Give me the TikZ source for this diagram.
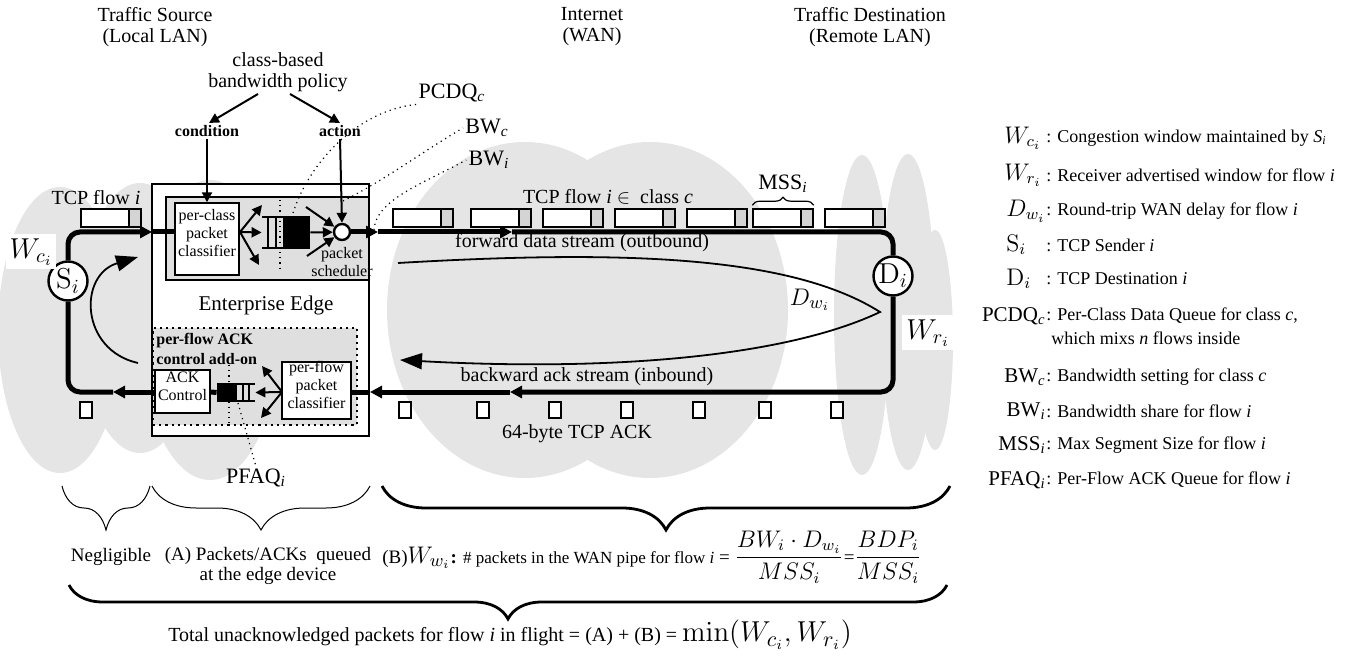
\documentclass[tikz,border=0pt]{standalone}
\usepackage[no-math]{fontspec}
\setmainfont{Liberation Serif}
\usetikzlibrary{arrows.meta,fit,decorations.pathreplacing}

\definecolor{cloudgray}{HTML}{E5E5E5}
\definecolor{boxgray}{HTML}{DFDFDF}
\definecolor{tailgray}{HTML}{D4D4D4}
\newcommand{\tsub}[1]{\textsubscript{\textit{#1}}}

\begin{document}
\begin{tikzpicture}[x=0.5pt, y=-0.5pt]

\tikzset{cloudfill/.style={fill=cloudgray}}
\tikzset{lbl/.style={font=\fontsize{10}{10.5}\selectfont, align=center, inner sep=1pt}}
\tikzset{smalltxt/.style={font=\fontsize{8}{9}\selectfont, align=center}}
\tikzset{boldtag/.style={font=\fontsize{8}{10}\bfseries\selectfont, inner sep=1pt}}
\tikzset{btxt/.style={font=\fontsize{9.5}{10}\selectfont, inner sep=1pt}}
\tikzset{leg/.style={font=\fontsize{9}{11}\selectfont, anchor=west, inner sep=0pt}}
\tikzset{legsym/.style={font=\fontsize{12}{14}\selectfont, anchor=west, inner sep=0pt}}
\tikzset{legtxt/.style={font=\fontsize{10.5}{12}\selectfont, anchor=east, inner sep=0pt}}
\tikzset{callout/.style={font=\fontsize{11}{13}\selectfont, inner sep=1pt}}
\tikzset{edgebox/.style={draw=black, line width=0.7pt, fill=white, inner sep=0pt}}
\tikzset{wire/.style={line width=2.5pt}}
\tikzset{flowtip/.style={-{Triangle[length=6pt,width=6pt]}}}
\tikzset{arr/.style={line width=1pt, -{Triangle[length=5pt,width=5pt]}}}
\tikzset{bigarr/.style={line width=0.9pt, -{Triangle[length=11pt,width=8pt]}}}
\tikzset{lead/.style={dotted, line width=0.6pt}}
\tikzset{pkt/.style={draw=black, line width=0.8pt, fill=white, minimum width=30pt, minimum height=9pt, inner sep=0pt,
  path picture={\fill[tailgray] ([xshift=-6pt]path picture bounding box.north east) rectangle (path picture bounding box.south east);
    \draw[line width=0.8pt] ([xshift=-6pt]path picture bounding box.north east) -- ([xshift=-6pt]path picture bounding box.south east);}}}
\tikzset{ack/.style={draw=black, line width=0.8pt, fill=white, minimum width=6pt, minimum height=8pt, inner sep=0pt}}
\tikzset{host/.style={circle, draw=black, line width=1.2pt, fill=white, minimum size=19.5pt, inner sep=0pt, font=\fontsize{14}{16}\selectfont}}
\tikzset{bbrace/.style={decorate, decoration={brace, mirror, amplitude=22pt}}}

\useasboundingbox (0,0) rectangle (1357,658);

\fill[cloudfill] (60,330) ellipse [x radius=62, y radius=143];
\fill[cloudfill] (140,318) ellipse [x radius=60, y radius=135];
\fill[cloudfill] (210,330) ellipse [x radius=70, y radius=150];
\fill[cloudfill] (525,310) ellipse [x radius=138, y radius=168];
\fill[cloudfill] (650,310) ellipse [x radius=138, y radius=168];
\fill[cloudfill] (862,315) ellipse [x radius=28, y radius=160];
\fill[cloudfill] (908,312) ellipse [x radius=27, y radius=158];
\fill[cloudfill] (935,340) ellipse [x radius=18, y radius=110];

\node (src) [lbl] at (155,27) {Traffic Source\\(Local LAN)};
\node (wan) [lbl] at (592,27) {Internet\\(WAN)};
\node (dst) [lbl] at (870,27) {Traffic Destination\\(Remote LAN)};

\node (policy) [lbl] at (278,72) {class-based\\bandwidth policy};
\node (cond) [boldtag] at (207,131) {condition};
\node (act) [boldtag] at (340,131) {action};

\node (edge) [edgebox, line width=0.9pt, fit={(152,184) (369,436)}] {};
\node (pcbox) [edgebox, fill=boxgray, fit={(166,197) (369,280)}] {};
\node (pcc) [edgebox, smalltxt, fit={(175,203) (239,275)}] {per-class\\packet\\classifier};
\node (eelbl) [font=\fontsize{10.5}{12}\selectfont] at (266,305) {Enterprise Edge};
\node (addon) [draw=black, dotted, line width=1.1pt, fill=boxgray, inner sep=0pt, fit={(153,328) (357,425)}] {};
\node (addtxt) [boldtag, anchor=north west, align=left, font=\fontsize{8}{10}\bfseries\selectfont] at (154,331) {per-flow ACK\\control add-on};
\node (ackc) [edgebox, smalltxt, fit={(155,370) (210,413)}] {ACK\\Control};
\node (pfc) [edgebox, smalltxt, fit={(282,362) (351,419)}] {per-flow\\packet\\classifier};

\node (pcdq) [inner sep=0pt, fit={(262,217) (310,248)}] {};
\fill (283,217) rectangle (310,248);
\draw[line width=1.4pt] (262,217) -- (310,217) (262,248) -- (310,248) (268,217) -- (268,248) (276,217) -- (276,248);
\node (pfaq) [inner sep=0pt, fit={(217,384) (255,401)}] {};
\fill (217,384) rectangle (237,401);
\draw[line width=1.4pt] (217,384) -- (255,384) (217,401) -- (255,401) (243,384) -- (243,401) (249,384) -- (249,401);

\node (sched) [circle, draw, line width=1.2pt, fill=white, minimum size=8pt, inner sep=0pt] at (342,232) {};
\node (schedtxt) [smalltxt, inner sep=0pt] at (342,262) {packet\\scheduler};

\node (si) [host] at (68,281) {$\mathrm{S}_i$};
\node (di) [host] at (893,276) {$\mathrm{D}_i$};
\node (wc) [fill=white, inner sep=2pt, font=\fontsize{14}{16}\selectfont] at (31,252) {$W_{c_i}$};
\node (wr) [fill=white, inner sep=2pt, font=\fontsize{14}{16}\selectfont] at (928,333) {$W_{r_i}$};

\coordinate (fwd) at (0,232);
\coordinate (bwd) at (0,392);
\coordinate (inA) at (152,232);
\coordinate (outA) at (378,232);
\coordinate (outB) at (512,232);
\coordinate (bkA) at (510,392);
\coordinate (bkB) at (370,392);
\coordinate (bkC) at (113,392);

\draw[wire, flowtip, rounded corners=6pt] (si.north) |- (inA);
\draw[wire] (inA) -- (pcc.west |- fwd);
\draw[wire] (sched.east) -- (pcbox.east |- fwd);
\draw[wire, flowtip] (pcbox.east |- fwd) -- (outA);
\draw[wire, flowtip] (outA) -- (outB);
\draw[wire, rounded corners=6pt] (outB) -| (di.north);
\draw[wire, flowtip, rounded corners=6pt] (di.south) |- (bkA);
\draw[wire, flowtip] (bkA) -- (bkB);
\draw[wire] (bkB) -- (pfc.east |- bwd);
\draw[wire] (pfaq.west) -- (ackc.east |- bwd);
\draw[wire, flowtip] (ackc.west |- bwd) -- (bkC);
\draw[wire, rounded corners=6pt] (bkC) -| (si.south);

\draw[arr] ([xshift=-10pt]policy.south) -- ([xshift=1pt]cond.north);
\draw[arr] ([xshift=6pt]policy.south) -- (act.north);
\draw[arr] (cond.south) -- (cond.south |- pcc.north);
\draw[arr] (act.south) -- (sched.north);

\coordinate (fanA) at (240,232);
\coordinate (fanU) at (262,205);
\coordinate (fanD) at (259,265);
\draw[arr] (fanA) -- (fanU);
\draw[arr] (fanA) -- (pcdq.west);
\draw[arr] (fanA) -- (fanD);
\coordinate (inU) at (306,207);
\coordinate (inD) at (307,256);
\draw[arr] (inU) -- (sched);
\draw[arr] (inD) -- (sched);
\draw[arr] (pcdq.east) -- (sched);

\coordinate (fanB) at (282,392);
\coordinate (fbU) at (262,366);
\coordinate (fbD) at (261,418);
\draw[arr] (fanB) -- (fbU);
\draw[arr] (fanB) -- (pfaq.east);
\draw[arr] (fanB) -- (fbD);

\node (pcdqlbl) [callout] at (452,93) {PCDQ\tsub{c}};
\node (bwclbl) [callout] at (487,128) {BW\tsub{c}};
\node (bwilbl) [callout] at (489,160) {BW\tsub{i}};
\node (pfaqlbl) [callout] at (256,478) {PFAQ\tsub{i}};

\draw[lead] (280,200) -- (280,268);
\draw[lead] (293,213) .. controls (310,160) and (360,110) .. (pcdqlbl.south west);
\draw[lead] (343,201) .. controls (385,180) and (425,150) .. (bwclbl.west);
\draw[lead] (374,230) .. controls (376,200) and (420,185) .. (bwilbl.west);
\draw[lead] (229,365) -- (229,423);
\draw[lead] (238,403) -- (pfaqlbl.north);

\coordinate (ccA) at (138,363);
\coordinate (ccB) at (138,257);
\draw[bigarr] (ccA) .. controls (80,350) and (78,275) .. (ccB);
\coordinate (dwA) at (398,263);
\coordinate (dwC) at (880,312);
\coordinate (dwB) at (400,360);
\draw[bigarr] (dwA) .. controls (620,250) and (790,255) .. (dwC) .. controls (790,355) and (620,372) .. (dwB);
\node (dwlbl) [font=\fontsize{13}{15}\selectfont] at (810,300) {$D_{w_i}$};

\node (flowlbl) [lbl] at (96,198) {TCP flow \textit{i}};
\node (p0) [pkt] at (111,218) {};
\foreach \x [count=\k] in {423,501,573,645,717,783,855}
  \node (p\k) [pkt] at (\x,218) {};
\node (classlbl) [lbl] at (608,197) {TCP flow \textit{i} $\in$\ \ class \textit{c}};
\node (msslbl) [callout] at (783,184) {MSS\tsub{i}};
\draw[decorate, decoration={brace, amplitude=4pt}, line width=0.6pt] ([yshift=1.5pt]p6.north west) -- ([yshift=1.5pt]p6.north east);

\node (fwdlbl) [lbl] at (582,243) {forward data stream (outbound)};
\node (bwdlbl) [lbl] at (587,377) {backward ack stream (inbound)};
\node (acklbl) [lbl] at (577,434) {64-byte TCP ACK};
\foreach \x [count=\k] in {86,405,483,555,627,699,765,837}
  \node (a\k) [ack] at (\x,410) {};

\node (lg1) [leg] at (1046,138) {: Congestion window maintained by \textit{S}\tsub{i}};
\node (ls1) [legsym] at (1004,138) {$W_{c_i}$};
\node (lg2) [leg] at (1046,175) {: Receiver advertised window for flow \textit{i}};
\node (ls2) [legsym] at (1004,175) {$W_{r_i}$};
\node (lg3) [leg] at (1046,211) {: Round-trip WAN delay for flow \textit{i}};
\node (ls3) [legsym] at (1006,211) {$D_{w_i}$};
\node (lg4) [leg] at (1046,245) {: TCP Sender \textit{i}};
\node (ls4) [legsym] at (1006,245) {$\mathrm{S}_i$};
\node (lg5) [leg] at (1046,279) {: TCP Destination \textit{i}};
\node (ls5) [legsym] at (1006,279) {$\mathrm{D}_i$};
\node (lg6) [leg] at (1046,316) {: Per-Class Data Queue for class \textit{c},};
\node (lg6b) [leg] at (1051,338) {which mixs \textit{n} flows inside};
\node (ls6) [legtxt] at (1046,316) {PCDQ\tsub{c}};
\node (lg7) [leg] at (1046,377) {: Bandwidth setting for class \textit{c}};
\node (ls7) [legtxt] at (1046,377) {BW\tsub{c}};
\node (lg8) [leg] at (1046,411) {: Bandwidth share for flow \textit{i}};
\node (ls8) [legtxt] at (1046,411) {BW\tsub{i}};
\node (lg9) [leg] at (1046,445) {: Max Segment Size for flow \textit{i}};
\node (ls9) [legtxt] at (1046,445) {MSS\tsub{i}};
\node (lg10) [leg] at (1046,480) {: Per-Flow ACK Queue for flow \textit{i}};
\node (ls10) [legtxt] at (1046,480) {PFAQ\tsub{i}};

\draw[bbrace, line width=0.5pt] (62,486) -- (150,486);
\draw[bbrace, line width=0.5pt] (152,486) -- (370,486);
\draw[bbrace, line width=1.4pt] (382,486) -- (950,486);
\draw[decorate, decoration={brace, mirror, amplitude=17pt}, line width=1.4pt] (69,585) -- (947,585);

\node (neglbl) [btxt] at (111,557) {Negligible};
\node (albl) [btxt, align=center] at (268,566) {(A) Packets/ACKs\ \ queued\\at the edge device};
\node (blbl) [btxt, anchor=west] at (380,557) {(B){\fontsize{13}{15}\selectfont$W_{w_i}$}\textbf{:} {\fontsize{8.5}{10}\selectfont\# packets in the WAN pipe for flow \textit{i}} = {\fontsize{12}{14}\selectfont$\displaystyle\frac{BW_i\cdot D_{w_i}}{MSS_i}$}={\fontsize{12}{14}\selectfont$\displaystyle\frac{BDP_i}{MSS_i}$}};
\node (totlbl) [btxt, font=\fontsize{10}{12}\selectfont] at (510,635) {Total unacknowledged packets for flow \textit{i} in flight = (A) + (B) = {\fontsize{15}{17}\selectfont$\min\bigl(W_{c_i}, W_{r_i}\bigr)$}};

\end{tikzpicture}
\end{document}
